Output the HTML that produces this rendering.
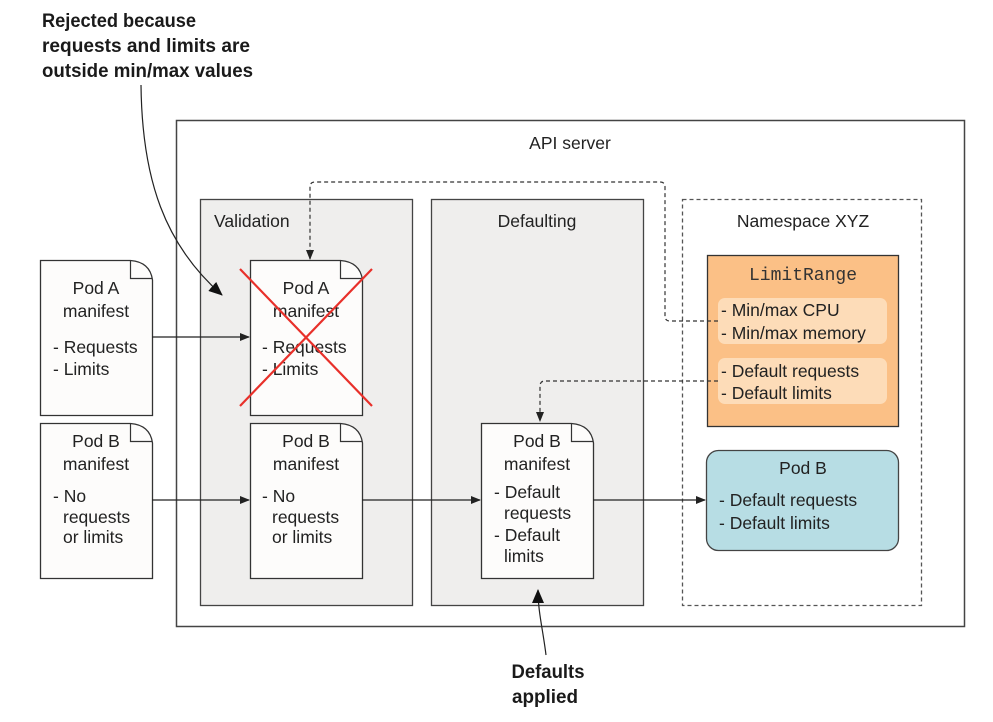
<!DOCTYPE html>
<html><head><meta charset="utf-8"><style>
html,body{margin:0;padding:0;background:#fff;}
svg{display:block;}
text{font-family:"Liberation Sans",sans-serif;fill:#222;}
.t{font-size:17.5px;}
.b{font-weight:bold;font-size:19px;fill:#1a1a1a;}
</style></head><body>
<svg width="993" height="722" viewBox="0 0 993 722" xmlns="http://www.w3.org/2000/svg">
<defs>
<marker id="ah" markerWidth="10" markerHeight="8" refX="9" refY="4" orient="auto" markerUnits="userSpaceOnUse"><path d="M0,0 L10,4 L0,8 z" fill="#222"/></marker>
<marker id="ah2" markerWidth="14" markerHeight="12" refX="13" refY="6" orient="auto" markerUnits="userSpaceOnUse"><path d="M0,0 L14,6 L0,12 z" fill="#111"/></marker>
</defs>
<!-- callout text -->
<text class="b" x="42" y="27" textLength="154" lengthAdjust="spacingAndGlyphs">Rejected because</text>
<text class="b" x="42" y="52" textLength="208" lengthAdjust="spacingAndGlyphs">requests and limits are</text>
<text class="b" x="42" y="77" textLength="211" lengthAdjust="spacingAndGlyphs">outside min/max values</text>

<!-- API server -->
<rect x="176.5" y="120.5" width="788" height="506" fill="#fff" stroke="#444" stroke-width="1.5"/>
<text class="t" x="570" y="149" text-anchor="middle">API server</text>

<rect x="200.5" y="199.5" width="212" height="406" fill="#efeeed" stroke="#444" stroke-width="1.3"/>
<text class="t" x="214" y="227">Validation</text>
<rect x="431.5" y="199.5" width="212" height="406" fill="#efeeed" stroke="#444" stroke-width="1.3"/>
<text class="t" x="537" y="227" text-anchor="middle">Defaulting</text>
<rect x="682.5" y="199.5" width="239" height="406" fill="#fff" stroke="#555" stroke-width="1.3" stroke-dasharray="4,3"/>
<text class="t" x="803" y="227" text-anchor="middle">Namespace XYZ</text>

<path d="M141,85 C142,180 165,245 222,295" fill="none" stroke="#222" stroke-width="1.2" marker-end="url(#ah2)"/>

<!-- LimitRange -->
<rect x="707.5" y="255.5" width="191" height="171" fill="#fbc086" stroke="#333" stroke-width="1.3"/>
<text x="803" y="280" text-anchor="middle" style="font-family:'Liberation Mono',monospace;font-size:18px;fill:#333">LimitRange</text>
<rect x="718" y="298" width="169" height="46" rx="7" fill="#fddcb8"/>
<text class="t" x="721" y="316">- Min/max CPU</text>
<text class="t" x="721" y="339">- Min/max memory</text>
<rect x="718" y="358" width="169" height="46" rx="7" fill="#fddcb8"/>
<text class="t" x="721" y="377">- Default requests</text>
<text class="t" x="721" y="399">- Default limits</text>

<!-- Pod B blue -->
<rect x="706.5" y="450.5" width="192" height="100" rx="12" fill="#b7dde4" stroke="#444" stroke-width="1.3"/>
<text class="t" x="803" y="474" text-anchor="middle">Pod B</text>
<text class="t" x="719" y="506">- Default requests</text>
<text class="t" x="719" y="529">- Default limits</text>

<!-- documents -->
<g fill="#fdfcfb" stroke="#333" stroke-width="1.3">
<path d="M40.5,260.5 H130.5 Q150,262 152.5,280 V415.5 H40.5 Z"/>
<path d="M40.5,423.5 H130.5 Q150,425 152.5,443 V578.5 H40.5 Z"/>
<path d="M250.5,260.5 H340.5 Q360,262 362.5,280 V415.5 H250.5 Z"/>
<path d="M250.5,423.5 H340.5 Q360,425 362.5,443 V578.5 H250.5 Z"/>
<path d="M481.5,423.5 H571.5 Q591,425 593.5,443 V578.5 H481.5 Z"/>
</g>
<g fill="none" stroke="#333" stroke-width="1.2">
<path d="M130.5,260.5 V278.5 H152.5"/>
<path d="M130.5,423.5 V441.5 H152.5"/>
<path d="M340.5,260.5 V278.5 H362.5"/>
<path d="M340.5,423.5 V441.5 H362.5"/>
<path d="M571.5,423.5 V441.5 H593.5"/>
</g>
<text class="t" x="96" y="294" text-anchor="middle">Pod A</text>
<text class="t" x="96" y="317" text-anchor="middle">manifest</text>
<text class="t" x="53" y="353">- Requests</text>
<text class="t" x="53" y="375">- Limits</text>

<text class="t" x="96" y="447" text-anchor="middle">Pod B</text>
<text class="t" x="96" y="470" text-anchor="middle">manifest</text>
<text class="t" x="53" y="502">- No</text>
<text class="t" x="63" y="523">requests</text>
<text class="t" x="63" y="543">or limits</text>

<text class="t" x="306" y="294" text-anchor="middle">Pod A</text>
<text class="t" x="306" y="317" text-anchor="middle">manifest</text>
<text class="t" x="262" y="353">- Requests</text>
<text class="t" x="262" y="375">- Limits</text>

<text class="t" x="306" y="447" text-anchor="middle">Pod B</text>
<text class="t" x="306" y="470" text-anchor="middle">manifest</text>
<text class="t" x="262" y="502">- No</text>
<text class="t" x="272" y="523">requests</text>
<text class="t" x="272" y="543">or limits</text>

<text class="t" x="537" y="447" text-anchor="middle">Pod B</text>
<text class="t" x="537" y="470" text-anchor="middle">manifest</text>
<text class="t" x="494" y="498">- Default</text>
<text class="t" x="504" y="519">requests</text>
<text class="t" x="494" y="541">- Default</text>
<text class="t" x="504" y="562">limits</text>

<!-- red X -->
<g stroke="#e8302a" stroke-width="2.2">
<line x1="240" y1="269" x2="372" y2="406"/>
<line x1="372" y1="269" x2="240" y2="406"/>
</g>

<!-- solid arrows -->
<g stroke="#222" stroke-width="1.2" fill="none" marker-end="url(#ah)">
<line x1="152" y1="337" x2="249" y2="337"/>
<line x1="152" y1="500" x2="249" y2="500"/>
<line x1="362" y1="500" x2="480" y2="500"/>
<line x1="593" y1="500" x2="705" y2="500"/>
</g>

<!-- dashed arrows -->
<g stroke="#333" stroke-width="1.2" fill="none" stroke-dasharray="4,3" marker-end="url(#ah)">
<path d="M718,321 H670 Q665,321 665,316 V187 Q665,182 660,182 H315 Q310,182 310,187 V259"/>
<path d="M718,381 H545 Q540,381 540,386 V421"/>
</g>

<!-- Defaults applied -->
<path d="M546,655 C543,630 538,612 538,590" fill="none" stroke="#222" stroke-width="1.2" marker-end="url(#ah2)"/>
<text class="b" x="548" y="678" text-anchor="middle" textLength="73" lengthAdjust="spacingAndGlyphs">Defaults</text>
<text class="b" x="545" y="703" text-anchor="middle" textLength="66" lengthAdjust="spacingAndGlyphs">applied</text>
</svg>
</body></html>
